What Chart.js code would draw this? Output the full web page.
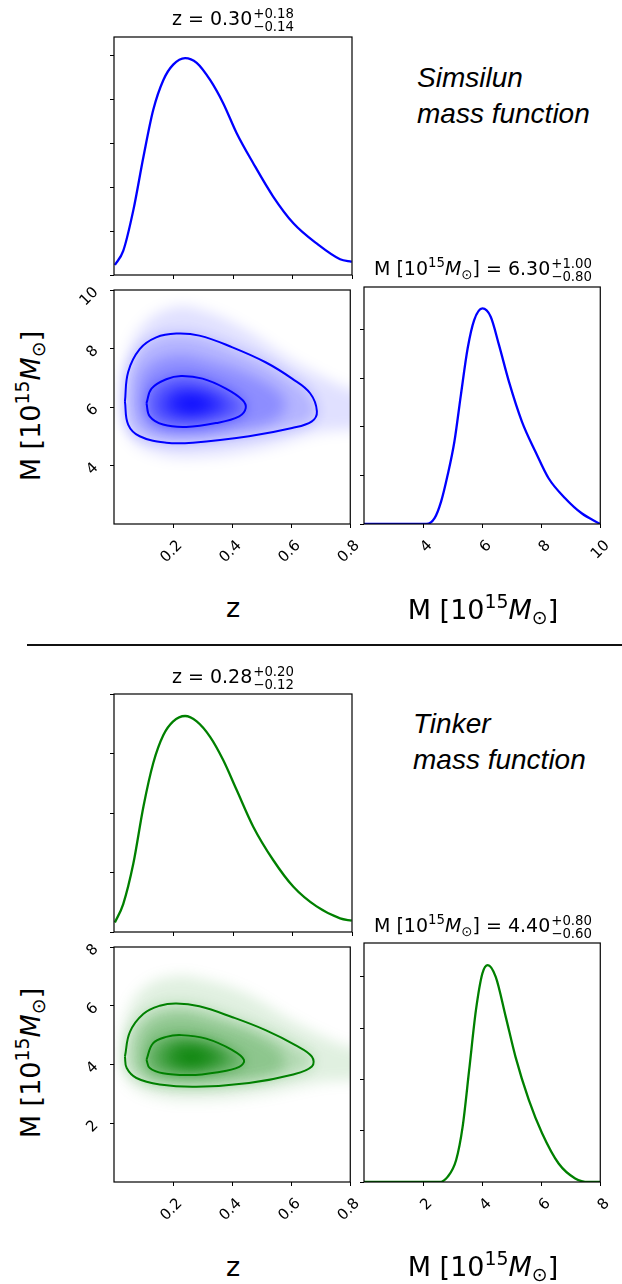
<!DOCTYPE html>
<html>
<head>
<meta charset="utf-8">
<script src="https://cdn.jsdelivr.net/npm/chart.js@4/dist/chart.umd.min.js"></script>
<style>
  body { margin: 0; background: #fff; }
  #page { position: relative; width: 622px; height: 1284px; overflow: hidden; font-family: 'DejaVu Sans', sans-serif; color: #000; }
  canvas { position: absolute; }
  .t { position: absolute; transform: translate(-50%, -50%); font-size: 19px; white-space: nowrap; }
  .lab { position: absolute; transform: translate(-50%, -50%); font-size: 27px; white-space: nowrap; }
  .rot { transform: translate(-50%, -50%) rotate(-90deg); }
  .ss { display: inline-flex; flex-direction: column; font-size: 0.7em; line-height: 0.95; vertical-align: 0.5em; margin-left: 1px; }
  sup { font-size: 0.7em; vertical-align: 0.55em; line-height: 0; }
  sub { font-size: 0.7em; vertical-align: -0.3em; line-height: 0; }
  .note { position: absolute; font-family: 'Liberation Sans', Arial, sans-serif; font-style: italic; font-size: 28px; line-height: 36px; white-space: nowrap; }
  .sep { position: absolute; left: 27px; top: 644px; width: 595px; height: 1.5px; background: #111; }
</style>
</head>
<body>
<div id="page">
  <canvas id="zTop"></canvas>
  <canvas id="denTop"></canvas>
  <canvas id="mTop"></canvas>
  <canvas id="zBot"></canvas>
  <canvas id="denBot"></canvas>
  <canvas id="mBot"></canvas>

  <div class="t" style="left:233px;top:20px">z = 0.30<span class="ss"><span>+0.18</span><span>−0.14</span></span></div>
  <div class="t" style="left:483px;top:270px">M [10<sup>15</sup><i>M</i><sub>⊙</sub>] = 6.30<span class="ss"><span>+1.00</span><span>−0.80</span></span></div>
  <div class="lab" style="left:233px;top:607px">z</div>
  <div class="lab" style="left:483px;top:609px">M [10<sup>15</sup><i>M</i><sub>⊙</sub>]</div>
  <div class="lab rot" style="left:30px;top:406px">M [10<sup>15</sup><i>M</i><sub>⊙</sub>]</div>
  <div class="note" style="left:417px;top:60px">Simsilun<br>mass function</div>

  <div class="sep"></div>

  <div class="t" style="left:233px;top:678px">z = 0.28<span class="ss"><span>+0.20</span><span>−0.12</span></span></div>
  <div class="t" style="left:483px;top:927px">M [10<sup>15</sup><i>M</i><sub>⊙</sub>] = 4.40<span class="ss"><span>+0.80</span><span>−0.60</span></span></div>
  <div class="lab" style="left:233px;top:1266px">z</div>
  <div class="lab" style="left:483px;top:1266px">M [10<sup>15</sup><i>M</i><sub>⊙</sub>]</div>
  <div class="lab rot" style="left:30px;top:1063px">M [10<sup>15</sup><i>M</i><sub>⊙</sub>]</div>
  <div class="note" style="left:413px;top:706px">Tinker<br>mass function</div>
</div>

<script>
// tick values
const zTicks = [0.2, 0.4, 0.6, 0.8];
const mTicksTop = [4, 6, 8, 10];
const mTicksBot = [2, 4, 6, 8];
const pdfTicksTop = [0, 1, 2, 3, 4, 5];
const pdfTicksFour = [0, 1, 2, 3, 4];

// marginal of z, Simsilun
const zGrid = [0.003, 0.031, 0.065, 0.099, 0.132, 0.166, 0.199, 0.239, 0.278, 0.323, 0.367, 0.412, 0.468, 0.535, 0.603, 0.681, 0.760, 0.799];
const zPdfTop = [0.23, 0.55, 1.48, 2.70, 3.77, 4.45, 4.80, 4.95, 4.84, 4.45, 3.92, 3.24, 2.55, 1.79, 1.18, 0.72, 0.36, 0.30];
// marginal of z, Tinker
const zPdfBot = [0.16, 0.47, 1.15, 2.11, 2.84, 3.31, 3.54, 3.63, 3.54, 3.28, 2.89, 2.39, 1.77, 1.21, 0.76, 0.43, 0.23, 0.19];

// marginal of M
const mGridTop = [2, 4.11, 4.39, 4.61, 4.83, 5.06, 5.28, 5.51, 5.73, 6.01, 6.29, 6.57, 6.91, 7.35, 7.81, 8.25, 8.81, 9.37, 10];
const mPdfTop = [0, 0, 0.12, 0.46, 1.0, 1.69, 2.65, 3.61, 4.19, 4.43, 4.26, 3.68, 2.92, 2.10, 1.48, 0.94, 0.53, 0.22, 0];
const mGridBot = [0, 2.55, 2.83, 3.12, 3.34, 3.56, 3.79, 4.01, 4.19, 4.46, 4.80, 5.13, 5.58, 6.03, 6.59, 7.15, 7.60, 8];
const mPdfBot = [0, 0, 0.10, 0.43, 1.08, 2.18, 3.35, 4.07, 4.23, 4.00, 3.22, 2.44, 1.60, 0.95, 0.36, 0.07, 0, 0];

// 2d contours [z, M], Simsilun
const c95Top = [[0.037, 6.19], [0.048, 7.20], [0.087, 7.98], [0.143, 8.38], [0.211, 8.51], [0.289, 8.44], [0.401, 8.04], [0.513, 7.53], [0.603, 6.97], [0.664, 6.47], [0.687, 5.85], [0.670, 5.51], [0.603, 5.28], [0.457, 5.00], [0.267, 4.78], [0.177, 4.78], [0.087, 5.00], [0.048, 5.40]];
const c68Top = [[0.110, 6.13], [0.127, 6.63], [0.177, 6.95], [0.227, 7.06], [0.300, 6.97], [0.379, 6.63], [0.435, 6.24], [0.446, 5.96], [0.424, 5.68], [0.345, 5.45], [0.244, 5.32], [0.166, 5.40], [0.121, 5.68]];
// density levels (outermost to core)
const haloTop = [[0.02, 6.2], [0.04, 7.6], [0.10, 8.8], [0.20, 9.4], [0.30, 9.3], [0.45, 8.6], [0.60, 7.6], [0.75, 6.8], [0.85, 6.3], [0.85, 5.4], [0.70, 5.15], [0.50, 4.6], [0.30, 4.3], [0.15, 4.4], [0.05, 5.0]];
const midTop = [[0.08, 6.15], [0.10, 7.2], [0.20, 7.75], [0.33, 7.55], [0.50, 6.9], [0.58, 6.2], [0.55, 5.6], [0.40, 5.2], [0.25, 5.05], [0.12, 5.3]];
const coreTop = [[0.16, 6.1], [0.20, 6.55], [0.27, 6.6], [0.35, 6.35], [0.38, 6.0], [0.33, 5.75], [0.25, 5.65], [0.18, 5.8]];
const peakTop = [[0.21, 6.1], [0.24, 6.3], [0.30, 6.25], [0.32, 6.05], [0.28, 5.9], [0.23, 5.92]];

// 2d contours [z, M], Tinker
const c95Bot = [[0.037, 4.27], [0.054, 5.11], [0.099, 5.72], [0.155, 6.00], [0.211, 6.08], [0.289, 5.98], [0.401, 5.61], [0.513, 5.17], [0.614, 4.66], [0.670, 4.27], [0.670, 3.93], [0.603, 3.65], [0.457, 3.37], [0.278, 3.24], [0.155, 3.32], [0.076, 3.54], [0.043, 3.88]];
const c68Bot = [[0.110, 4.16], [0.132, 4.72], [0.177, 4.94], [0.228, 5.00], [0.312, 4.88], [0.401, 4.49], [0.440, 4.16], [0.424, 3.92], [0.345, 3.73], [0.255, 3.64], [0.166, 3.70], [0.121, 3.88]];
const haloBot = [[0.02, 4.3], [0.04, 5.6], [0.10, 6.6], [0.20, 7.0], [0.30, 6.9], [0.45, 6.4], [0.60, 5.5], [0.75, 4.75], [0.85, 4.35], [0.85, 3.6], [0.70, 3.4], [0.50, 3.0], [0.30, 2.8], [0.15, 2.9], [0.05, 3.4]];
const midBot = [[0.08, 4.2], [0.10, 5.2], [0.20, 5.7], [0.33, 5.5], [0.50, 4.9], [0.58, 4.2], [0.55, 3.7], [0.40, 3.4], [0.25, 3.3], [0.12, 3.5]];
const coreBot = [[0.16, 4.25], [0.20, 4.7], [0.27, 4.75], [0.35, 4.5], [0.38, 4.15], [0.33, 3.9], [0.25, 3.8], [0.18, 3.95]];
const peakBot = [[0.21, 4.25], [0.24, 4.45], [0.30, 4.4], [0.32, 4.2], [0.28, 4.05], [0.23, 4.07]];

Chart.defaults.font.family = "'DejaVu Sans', sans-serif";
Chart.defaults.color = '#000';

const frame = {
  id: 'frame',
  afterDraw(chart) {
    const { ctx, chartArea: a } = chart;
    ctx.save();
    ctx.strokeStyle = '#000';
    ctx.lineWidth = 1.2;
    ctx.strokeRect(a.left, a.top, a.right - a.left, a.bottom - a.top);
    ctx.restore();
  },
};

// blur the filled density layers, leave the contour lines sharp
const blurLayers = {
  id: 'blurLayers',
  beforeDatasetsDraw(chart, args, opts) {
    if (!opts.radius) return;
    chart.ctx.save();
    chart.ctx.filter = `blur(${opts.radius}px)`;
    chart.$blurOn = true;
  },
  beforeDatasetDraw(chart, args) {
    if (chart.$blurOn && !chart.data.datasets[args.index].blurred) {
      chart.ctx.restore();
      chart.$blurOn = false;
    }
  },
  afterDatasetsDraw(chart) {
    if (chart.$blurOn) {
      chart.ctx.restore();
      chart.$blurOn = false;
    }
  },
};

function axis(min, max, ticks, size, labels, extra) {
  return Object.assign({
    type: 'linear',
    min, max,
    afterBuildTicks: (s) => { s.ticks = ticks.map((v) => ({ value: v })); },
    afterFit: (s) => { if (s.isHorizontal()) s.height = size; else s.width = size; },
    grid: { drawOnChartArea: false, tickLength: 4, tickColor: '#000', tickWidth: 1 },
    border: { display: false },
    ticks: {
      display: labels,
      minRotation: 45,
      maxRotation: 45,
      autoSkip: false,
      color: '#000',
      font: { size: 15 },
      callback: (v) => String(v),
    },
  }, extra || {});
}

function place(id, area, pad) {
  const c = document.getElementById(id);
  const w = area.w + pad.l + pad.r;
  const h = area.h + pad.t + pad.b;
  c.width = w; c.height = h;
  c.style.width = w + 'px'; c.style.height = h + 'px';
  c.style.left = (area.x - pad.l) + 'px';
  c.style.top = (area.y - pad.t) + 'px';
  return c;
}

function lineSet(xs, ys, color) {
  return {
    data: xs.map((x, i) => ({ x, y: ys[i] })),
    showLine: true,
    borderColor: color,
    borderWidth: 2.3,
    pointRadius: 0,
    cubicInterpolationMode: 'monotone',
    fill: false,
  };
}

function loop(pairs) {
  return pairs.concat([pairs[0]]).map(([x, y]) => ({ x, y }));
}

function shapeSet(pairs, fillColor) {
  return { data: loop(pairs), showLine: true, fill: 'shape', backgroundColor: fillColor, borderWidth: 0, pointRadius: 0, tension: 0.4, blurred: true };
}

function contourSet(pairs, color) {
  return { data: loop(pairs), showLine: true, fill: false, borderColor: color, borderWidth: 2, pointRadius: 0, tension: 0.4 };
}

const baseOpts = {
  responsive: false,
  animation: false,
  events: [],
  plugins: { legend: { display: false }, tooltip: { enabled: false } },
};

function histChart(id, area, xs, ys, color, xr, yr) {
  const pad = { l: 8, r: 6, t: 6, b: 8 };
  place(id, area, pad);
  return new Chart(document.getElementById(id), {
    type: 'scatter',
    data: { datasets: [lineSet(xs, ys, color)] },
    options: Object.assign({}, baseOpts, {
      layout: { padding: { left: 0, top: pad.t, right: pad.r, bottom: 0 } },
      scales: {
        x: axis(xr[0], xr[1], xr[2], pad.b, false),
        y: axis(yr[0], yr[1], yr[2], pad.l, false),
      },
    }),
    plugins: [frame],
  });
}

function massHist(id, area, xs, ys, color, xr, yr) {
  const pad = { l: 8, r: 20, t: 6, b: 45 };
  place(id, area, pad);
  const xAxis = axis(xr[0], xr[1], xr[2], pad.b, true);
  xAxis.ticks.padding = 9;
  xAxis.ticks.labelOffset = 7;
  return new Chart(document.getElementById(id), {
    type: 'scatter',
    data: { datasets: [lineSet(xs, ys, color)] },
    options: Object.assign({}, baseOpts, {
      layout: { padding: { left: 0, top: pad.t, right: pad.r, bottom: 0 } },
      scales: { x: xAxis, y: axis(yr[0], yr[1], yr[2], pad.l, false) },
    }),
    plugins: [frame],
  });
}

function densChart(id, area, layers, c68, c95, rgb, yr) {
  const pad = { l: 40, r: 20, t: 20, b: 45 };
  place(id, area, pad);
  const alphas = [0.75, 0.55, 0.38, 0.22, 0.2, 0.12];
  const fills = layers.map((p, i) => shapeSet(p, `rgba(${rgb},${alphas[i]})`));
  const xAxis = axis(0, 0.8, zTicks, pad.b, true);
  xAxis.ticks.padding = 9;
  xAxis.ticks.labelOffset = 7;
  const yAxis = axis(yr[0], yr[1], yr[2], pad.l, true);
  yAxis.ticks.padding = 14;
  return new Chart(document.getElementById(id), {
    type: 'scatter',
    data: { datasets: [contourSet(c68, `rgb(${rgb})`), contourSet(c95, `rgb(${rgb})`)].concat(fills) },
    options: Object.assign({}, baseOpts, {
      layout: { padding: { left: 0, top: pad.t, right: pad.r, bottom: 0 } },
      scales: { x: xAxis, y: yAxis },
      plugins: { legend: { display: false }, tooltip: { enabled: false }, blurLayers: { radius: 7 } },
    }),
    plugins: [blurLayers, frame],
  });
}

const blue = '0,0,255';
const green = '0,128,0';

histChart('zTop', { x: 114, y: 37, w: 238, h: 238 }, zGrid, zPdfTop, 'rgb(0,0,255)', [0, 0.8, zTicks], [0, 5.43, pdfTicksTop]);
densChart('denTop', { x: 114, y: 287, w: 238, h: 237 }, [peakTop, coreTop, c68Top, midTop, c95Top, haloTop], c68Top, c95Top, blue, [2, 10, mTicksTop]);
massHist('mTop', { x: 364, y: 287, w: 238, h: 237 }, mGridTop, mPdfTop, 'rgb(0,0,255)', [2, 10, mTicksTop], [0, 4.87, pdfTicksFour]);

histChart('zBot', { x: 114, y: 694, w: 238, h: 238 }, zGrid, zPdfBot, 'rgb(0,128,0)', [0, 0.8, zTicks], [0, 4.0, pdfTicksFour]);
densChart('denBot', { x: 114, y: 944, w: 238, h: 238 }, [peakBot, coreBot, c68Bot, midBot, c95Bot, haloBot], c68Bot, c95Bot, green, [0, 8, mTicksBot]);
massHist('mBot', { x: 364, y: 943, w: 238, h: 239 }, mGridBot, mPdfBot, 'rgb(0,128,0)', [0, 8, mTicksBot], [0, 4.66, pdfTicksFour]);
</script>
</body>
</html>
